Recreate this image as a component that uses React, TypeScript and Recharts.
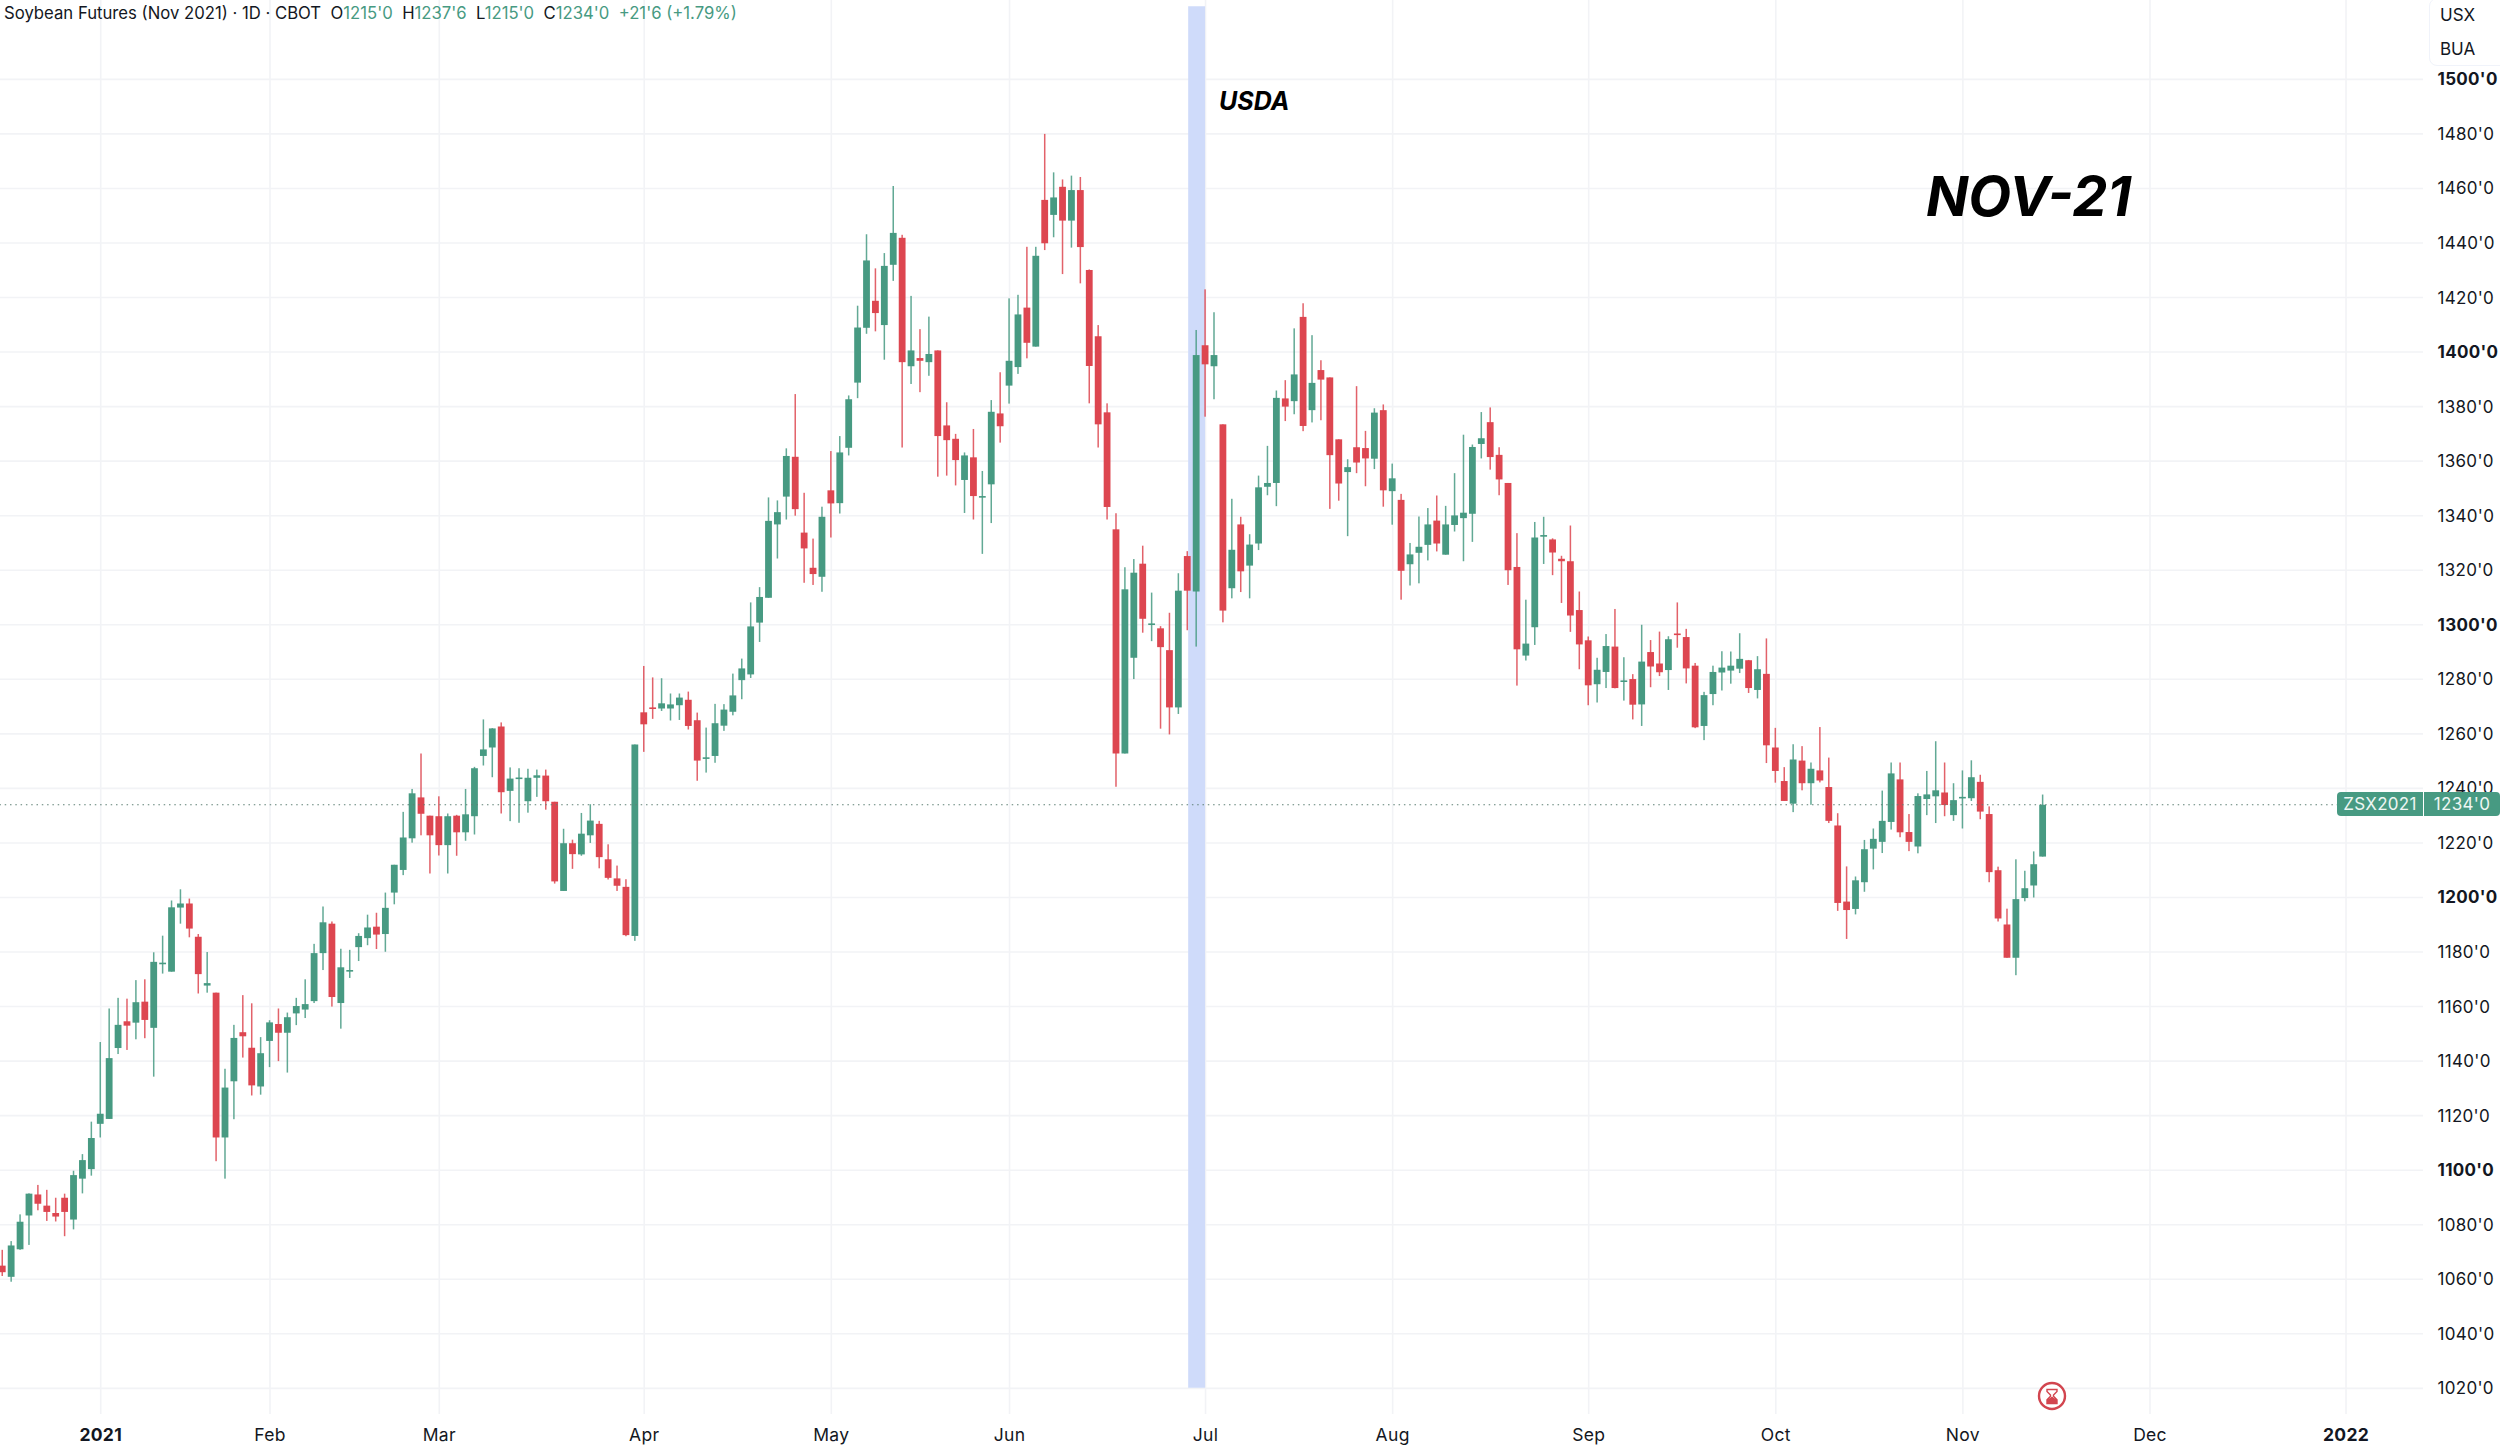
import React from "react";
import { ComposedChart, Bar, XAxis, YAxis, CartesianGrid, ReferenceArea, ReferenceLine } from "recharts";

const opens = [1065,1060.9,1071,1083.4,1091.1,1087,1084.3,1089.9,1081.9,1096.9,
1100.4,1117,1118.8,1144.8,1154.6,1154.1,1161.8,1152.2,1175.8,1172.8,
1196.3,1197.8,1185.6,1167.7,1165.1,1112,1132.6,1150.6,1144.9,1130.7,
1147.4,1153.6,1150.4,1157.5,1158.9,1162,1179.6,1190.4,1161.3,1172.9,
1181.8,1185.1,1189.3,1186.6,1201.8,1210.1,1221.7,1236.7,1230,1229.8,
1219.2,1230,1223.9,1229.8,1251.9,1255,1262.7,1239.1,1243.6,1235.3,
1243.9,1244.7,1235.1,1202.4,1219.9,1215.8,1222.8,1227,1214,1207,
1203.9,1185.9,1267.9,1269.7,1269.3,1269.3,1270.5,1272.5,1265,1251.2,
1251.9,1263,1268.1,1279.7,1281.8,1300.8,1309.9,1336.8,1347,1361.6,
1333.8,1320.9,1317.6,1349.3,1344.6,1364.9,1388.8,1408.9,1418.8,1409.9,
1432,1441.9,1394.8,1397.8,1396.3,1400.6,1373.1,1368.2,1353.1,1361.4,
1347,1351.5,1377.5,1387.7,1394.5,1416.3,1402,1455.8,1450.3,1460.6,
1448.2,1459.4,1430.1,1405.8,1377.9,1335,1252.8,1287.9,1322.4,1300.1,
1298.7,1290.7,1269.7,1325.2,1312.2,1402.5,1394.8,1373.5,1313.4,1336.8,
1321.7,1329.8,1350.6,1352,1383,1382,1412.9,1378.7,1393.4,1390.7,
1368,1356,1365.1,1364.8,1360.9,1378.7,1349,1345.8,1322.2,1326.4,
1329.3,1338.2,1325.7,1336.6,1339.1,1340.7,1366.3,1374.3,1362.3,1352,
1321.2,1288.7,1299.1,1332.3,1331.3,1324.2,1323.3,1305.4,1294.3,1278.2,
1282.7,1292,1279.4,1280.1,1270.8,1290,1285.8,1283.4,1296.8,1295.5,
1285,1262.9,1274.6,1282.5,1283.2,1283.9,1287,1276.1,1282,1255,
1242.7,1234.4,1250.2,1241.9,1246.6,1240.5,1226.4,1198.5,1195.8,1205.6,
1217.9,1220.4,1227.7,1243.3,1224,1218.7,1236.1,1237.1,1238.5,1230.2,
1236.7,1236.4,1242.4,1230.6,1210,1190.1,1177.9,1199.8,1204.4,1215];

const highs = [1070.8,1074,1083.8,1091.5,1094.6,1092.8,1089.9,1091.4,1099.8,1105.9,
1117.8,1147,1159.3,1163.2,1162.9,1169.7,1170,1179.9,1186,1198.9,
1203,1199.6,1186.6,1180,1165.1,1137.2,1153.3,1164.2,1161.2,1148.8,
1155,1159.3,1157.8,1163.2,1170,1183,1196.7,1191.2,1181.2,1180.8,
1186.9,1193.7,1194.4,1201.8,1212,1231.4,1239.8,1252.8,1230,1237.1,
1230.8,1230.3,1239.8,1247.9,1265.3,1262.1,1264.2,1247.7,1247.4,1247.2,
1246.9,1246.9,1235.1,1225.2,1221.2,1231,1234.2,1228.1,1219.5,1211.7,
1206.7,1256.1,1284.9,1280.7,1280.4,1274.8,1274.8,1275.5,1267.8,1262.3,
1271,1270.9,1282.1,1287.6,1308.2,1313.8,1346.7,1345.6,1364.7,1384.6,
1348.4,1331.6,1343.3,1363.7,1369.2,1384.1,1417,1443.2,1430.7,1436.3,
1460.9,1443,1420.6,1408.4,1413,1400.6,1381.6,1370,1363.2,1371.8,
1356.4,1382.4,1392.6,1419.7,1421,1438.6,1438.6,1480,1465.9,1463.3,
1464.7,1464.2,1430.3,1409.9,1381.2,1340.9,1321.1,1324.1,1329,1311.8,
1299.5,1304.4,1318.9,1327,1408.1,1423,1414.6,1373.5,1346.2,1339.6,
1333.2,1354.7,1365.6,1385.9,1389.7,1408.7,1417.9,1406.2,1397,1390.7,
1368,1360.7,1387.5,1371.1,1379.4,1380.8,1359.1,1348,1330,1339.7,
1342.8,1347.4,1343.6,1355.6,1369.7,1366.1,1378,1379.7,1365.1,1352,
1333.6,1309.2,1337.7,1339.6,1331.7,1325.3,1336.4,1312.2,1295.7,1287.9,
1296.6,1305.8,1288.1,1281.9,1300,1294.4,1297.5,1295.8,1308.2,1298.5,
1286,1275.4,1285,1290.3,1290.2,1296.9,1287.1,1288.5,1295,1262.2,
1247.8,1256.2,1255.5,1249.5,1262.5,1251.3,1230.9,1211.4,1207.7,1221.1,
1225.3,1239.2,1249.5,1249.5,1230.6,1238.2,1246.4,1257.3,1249.5,1241.9,
1246.6,1250.3,1245,1233.4,1211.3,1195.9,1214,1209.8,1216.9,1237.75];

const lows = [1061.2,1059.1,1070.8,1072.6,1085.3,1081.4,1081.2,1075.8,1078.3,1091.5,
1098,1112,1118.8,1142.6,1144.1,1148,1148.4,1134.3,1172.1,1172.8,
1190.4,1185.4,1164.8,1165.1,1103.3,1096.9,1118.7,1141.3,1127.4,1127.7,
1137.8,1140,1135.8,1153.2,1155.8,1161.3,1173.4,1160,1151.9,1170.5,
1176.7,1182.5,1181.1,1180.1,1197.5,1208.2,1220.1,1222.8,1208.8,1215.4,
1208.8,1215.3,1220.8,1223.1,1248.4,1244.1,1230.8,1228,1227.4,1231.1,
1236.9,1232.2,1205.1,1202.4,1210.5,1215.3,1220,1210.7,1206.6,1202.4,
1185.8,1184.1,1253.4,1265.5,1268.4,1264.9,1265.1,1261.6,1242.8,1245.8,
1249.4,1261.1,1266.8,1272.7,1280.5,1293.7,1309.9,1324.3,1338.6,1340,
1315.4,1314.6,1312.1,1332,1340.8,1362.1,1383.1,1406.7,1407.6,1397.2,
1426.1,1365,1388.3,1385.3,1391.3,1354.3,1354.7,1351.1,1341,1338.6,
1326,1337.3,1366.8,1381.1,1392,1397.7,1402,1437.4,1442.1,1428.6,
1438.3,1425.2,1381.2,1365,1338.6,1240.6,1252.8,1280.1,1297.1,1294,
1261.9,1259.8,1267.3,1298,1292,1376.3,1382.7,1300.9,1309.7,1312,
1309.7,1327.4,1347.5,1343.5,1374.7,1377.2,1371,1374.2,1375,1342.5,
1345.5,1332.5,1355.6,1350.8,1357.1,1343.3,1336.7,1309.2,1314.4,1315.2,
1323.6,1326.9,1325.7,1334.2,1323.3,1330.4,1361,1356.9,1347.5,1314.6,
1277.7,1286.9,1292.6,1322.3,1318.2,1308,1297.4,1283.7,1270.5,1271.5,
1276.8,1276.7,1272.2,1265.3,1262.9,1277.1,1281.2,1276.1,1291.6,1278.5,
1262.1,1257.7,1270.5,1275.9,1278.4,1282.3,1275,1273,1249.3,1242.1,
1235.4,1231.3,1239.3,1234,1242.2,1227.3,1195.1,1184.8,1193.8,1202.1,
1210.3,1216.3,1224.9,1222.1,1217,1216.2,1230.2,1227.3,1229.8,1228.1,
1225.3,1235.4,1228.7,1205.6,1191.2,1177.9,1171.5,1198.6,1200,1215];

const closes = [1062.6,1072.4,1081.1,1091.4,1087.7,1084.7,1083,1084.7,1098.2,1103.7,
1111.8,1120.7,1141.1,1153.3,1153,1161.6,1155.1,1176.4,1176.1,1196.4,
1197.8,1188.6,1171.9,1168.6,1112,1130.3,1148.5,1149.1,1131.1,1142.9,
1154.2,1150.4,1156.1,1160.2,1160.9,1179.6,1190.9,1163.5,1174.4,1173.4,
1185.9,1189,1186.4,1196.2,1212,1222,1238.2,1230.7,1222.8,1219.2,
1229.8,1223.9,1230.5,1247.4,1254.3,1262,1238.6,1243.6,1244,1243.9,
1244.8,1235.3,1205.9,1219.9,1215.9,1223.4,1228.2,1214.8,1207.2,1204.3,
1186.2,1256.1,1263.5,1269.4,1271.2,1270.8,1273.3,1262.9,1250.2,1251.4,
1263.9,1268.9,1274.1,1284,1299.4,1310.2,1338.1,1341.3,1361.9,1342.4,
1328,1318.6,1339.6,1344.5,1363.2,1382.7,1409,1433.6,1414.3,1431.6,
1443.7,1396.3,1400.6,1396.8,1399.3,1369.2,1367.7,1360.4,1362.1,1347.2,
1347.2,1378.1,1372.8,1396.8,1413.8,1403.4,1435.3,1439.9,1456.7,1448.2,
1459.4,1438.5,1394.9,1373.5,1343.2,1252.8,1313,1319.1,1302.2,1300.5,
1291.8,1269.7,1312.5,1312.5,1398.9,1395.5,1398.9,1305.2,1327.5,1319.6,
1329.4,1350.4,1352,1383.2,1380,1391.8,1372.9,1388.7,1389.9,1362.2,
1351.8,1357.8,1359.5,1361,1377.8,1349.3,1353.7,1319.8,1325.8,1328.6,
1336.8,1329.8,1336.8,1340.1,1341.1,1365.2,1368.4,1361.5,1353.3,1320,
1291,1293.1,1332,1332.9,1326.5,1323.3,1303.4,1292.8,1277.8,1283.5,
1292.2,1276.8,1279.6,1270.7,1286.5,1284.7,1282.6,1294.7,1296.5,1284,
1262.4,1274.2,1282.7,1284.3,1285,1287.5,1276.8,1283.7,1255.8,1246.4,
1235.4,1250.6,1241.9,1247.2,1242.9,1228.1,1198,1195.4,1206.3,1217.7,
1221.5,1228.1,1245.5,1223.9,1220.4,1237.2,1237.8,1239.3,1233.9,1235.7,
1236.9,1244.1,1231.5,1209.3,1192.3,1177.9,1199.4,1203.4,1212.2,1234];

const monthTicks = [11, 30, 49, 72, 93, 113, 135, 156, 178, 199, 220, 241, 263];
const monthLabels = ["2021", "Feb", "Mar", "Apr", "May", "Jun", "Jul", "Aug", "Sep", "Oct", "Nov", "Dec", "2022"];
const priceTicks = [1020,1040,1060,1080,1100,1120,1140,1160,1180,1200,1220,1240,1260,1280,1300,1320,1340,1360,1380,1400,1420,1440,1460,1480,1500];
const lastPrice = 1234;

const GREEN = "#479a82";
const RED = "#dd4650";
const INK = "#131722";
const FONT = "Inter, 'Noto Sans', sans-serif";

const candles = opens.map((o, i) => ({ i, o, h: highs[i], l: lows[i], c: closes[i], range: [lows[i], highs[i]] }));

function Candle(props: any) {
  const { x, y, width, height, payload } = props;
  const top = Math.min(y, y + height);
  const span = Math.abs(height);
  const unit = span / (payload.h - payload.l);
  const cx = x + width / 2;
  const up = payload.c >= payload.o;
  const color = up ? GREEN : RED;
  const bodyTop = top + (payload.h - Math.max(payload.o, payload.c)) * unit;
  const bodyH = Math.max(Math.abs(payload.o - payload.c) * unit, 1.6);
  return (
    <g>
      <rect x={cx - 0.75} y={top} width={1.5} height={span} fill={color} opacity={0.85} />
      <rect x={cx - 3.4} y={bodyTop} width={6.8} height={bodyH} fill={color} />
    </g>
  );
}

function PriceTick(props: any) {
  const { x, y, payload } = props;
  const bold = payload.value % 100 === 0;
  return (
    <text x={x + 6.5} y={y} dy={6} fontFamily={FONT} fontSize={17} fontWeight={bold ? 700 : 400} fill={INK} letterSpacing={0.3}>
      {payload.value + "'0"}
    </text>
  );
}

function MonthTick(props: any) {
  const { x, y, payload } = props;
  const label = monthLabels[monthTicks.indexOf(payload.value)];
  const bold = /^\d/.test(label);
  return (
    <text x={x} y={y} dy={19} textAnchor="middle" fontFamily={FONT} fontSize={17.5} fontWeight={bold ? 700 : 400} fill={INK} letterSpacing={0.3}>
      {label}
    </text>
  );
}

const overlay = (style: React.CSSProperties): React.CSSProperties => ({ position: "absolute", whiteSpace: "nowrap", fontFamily: FONT, ...style });

export default function App() {
  return (
    <div style={{ position: "absolute", left: 0, top: 0, width: 2500, height: 1449, background: "#fff", overflow: "hidden" }}>
      <ComposedChart width={2500} height={1449} data={candles} margin={{ top: 0, right: 0, bottom: 0, left: 0 }}>
        <CartesianGrid stroke="#f2f3f6" strokeWidth={1.6} syncWithTicks />
        <XAxis
          dataKey="i"
          type="number"
          domain={[-0.303, 271.64]}
          allowDataOverflow
          ticks={monthTicks}
          interval={0}
          height={35}
          axisLine={false}
          tickLine={false}
          tick={<MonthTick />}
        />
        <YAxis
          orientation="right"
          type="number"
          domain={[1010.6, 1529.1]}
          allowDataOverflow
          ticks={priceTicks}
          interval={0}
          width={77}
          axisLine={false}
          tickLine={false}
          tick={<PriceTick />}
        />
        <ReferenceArea x1={133.05} x2={134.95} y1={1020.2} y2={1526.8} fill="#cfdbfa" fillOpacity={1} stroke="none" />
        <ReferenceLine y={lastPrice} stroke="#5f8076" strokeWidth={1.2} strokeDasharray="1.5 3.8" />
        <Bar dataKey="range" barSize={8} shape={<Candle />} isAnimationActive={false} />
      </ComposedChart>

      <div style={overlay({ left: 4, top: 1, fontSize: 16.7, lineHeight: "24px", color: INK })}>
        Soybean Futures (Nov 2021) · 1D · CBOT{"\u00a0\u00a0"}O<span style={{ color: GREEN }}>1215'0</span>{"\u00a0\u00a0"}H<span style={{ color: GREEN }}>1237'6</span>{"\u00a0\u00a0"}L<span style={{ color: GREEN }}>1215'0</span>{"\u00a0\u00a0"}C<span style={{ color: GREEN }}>1234'0</span>{"\u00a0\u00a0"}<span style={{ color: GREEN }}>+21'6 (+1.79%)</span>
      </div>

      <div style={{ position: "absolute", left: 2429, top: -2, width: 80, height: 68, background: "#fff", border: "1px solid #f0f3fa", borderRadius: 8, boxSizing: "border-box" }} />
      <div style={overlay({ left: 2440, top: 3, fontSize: 17, lineHeight: "24px", color: INK })}>USX</div>
      <div style={overlay({ left: 2440, top: 37, fontSize: 17, lineHeight: "24px", color: INK })}>BUA</div>

      <div style={overlay({ left: 1219, top: 84, fontSize: 25, lineHeight: "34px", fontWeight: 700, fontStyle: "italic", color: "#000" })}>USDA</div>
      <div style={overlay({ left: 1926, top: 156, fontSize: 55.6, lineHeight: "80px", fontWeight: 700, fontStyle: "italic", color: "#000" })}>NOV-21</div>

      <div style={overlay({ left: 2337, top: 792, width: 86, height: 24, background: GREEN, borderRadius: "4px 0 0 4px", color: "#eef6f3", fontSize: 17, lineHeight: "24px", textAlign: "center", letterSpacing: 0.3 })}>ZSX2021</div>
      <div style={overlay({ left: 2424, top: 792, width: 76, height: 24, background: GREEN, borderRadius: "0 4px 4px 0", color: "#eef6f3", fontSize: 17, lineHeight: "24px", textAlign: "center", letterSpacing: 0.3 })}>1234'0</div>

      <svg style={{ position: "absolute", left: 2037, top: 1381, width: 30, height: 30 }} viewBox="0 0 30 30">
        <circle cx={15} cy={15} r={13} fill="#fff" stroke="#d2454f" strokeWidth={2.4} />
        <path d="M10 8.5h10v2l-3.5 3.6v1.2l3.5 3.6v3.6h-10v-3.6l3.5-3.6v-1.2l-3.5-3.6z" fill="none" stroke="#d2454f" strokeWidth={1.4} />
        <path d="M10 22.5v-3.6l5-3.4 5 3.4v3.6z" fill="#d2454f" />
      </svg>
    </div>
  );
}
